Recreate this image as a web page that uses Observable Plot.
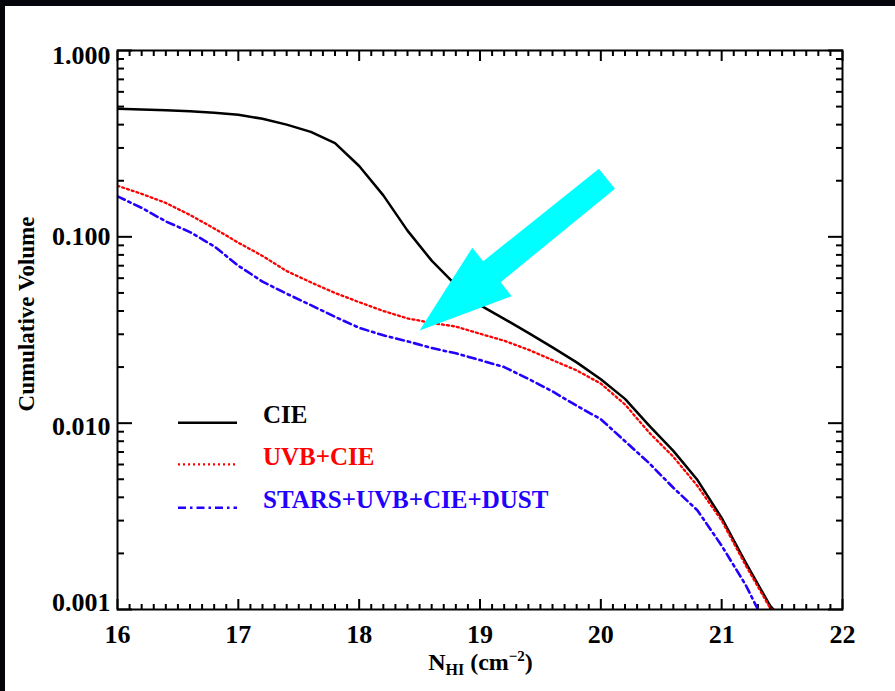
<!DOCTYPE html>
<html><head><meta charset="utf-8">
<script src="https://cdn.jsdelivr.net/npm/d3@7"></script>
<script src="https://cdn.jsdelivr.net/npm/@observablehq/plot@0.6"></script>
<style>
html,body{margin:0;padding:0;background:#05060b;width:895px;height:691px;overflow:hidden}
#panel{position:absolute;left:5px;top:6px;width:890px;height:685px;background:#fff}
</style></head><body><div id="panel"></div>
<script>
// ---- data ----
const nCIE   = [16.0,16.2,16.4,16.6,16.8,17.0,17.2,17.4,17.6,17.8,18.0,18.2,18.4,18.6,18.8,19.0,19.2,19.4,19.6,19.8,20.0,20.2,20.4,20.6,20.8,21.0,21.2,21.4,21.43];
const volCIE = [0.487,0.482,0.478,0.472,0.463,0.452,0.430,0.400,0.366,0.318,0.240,0.167,0.108,0.0745,0.055,0.043,0.0363,0.0305,0.0255,0.0212,0.0172,0.0135,0.0097,0.0071,0.00495,0.0031,0.00178,0.00105,0.001];
const nUVB   = [16.0,16.2,16.4,16.6,16.8,17.0,17.2,17.4,17.6,17.8,18.0,18.2,18.4,18.6,18.8,19.0,19.2,19.4,19.6,19.8,20.0,20.2,20.4,20.6,20.8,21.0,21.2,21.4,21.42];
const volUVB = [0.188,0.170,0.152,0.131,0.111,0.093,0.079,0.0655,0.057,0.050,0.0446,0.040,0.0365,0.0345,0.0330,0.0302,0.0277,0.0248,0.0218,0.0192,0.0163,0.0126,0.0089,0.0066,0.0046,0.0030,0.00172,0.00102,0.001];
const nSTARS   = [16.0,16.2,16.4,16.6,16.8,17.0,17.2,17.4,17.6,17.8,18.0,18.2,18.4,18.6,18.8,19.0,19.2,19.4,19.6,19.8,20.0,20.2,20.4,20.6,20.8,21.0,21.2,21.3];
const volSTARS = [0.165,0.143,0.121,0.106,0.089,0.070,0.0575,0.0495,0.043,0.0372,0.0325,0.0296,0.0275,0.0253,0.0237,0.0218,0.0200,0.0173,0.0148,0.0124,0.0105,0.0080,0.0061,0.0045,0.0034,0.0022,0.00135,0.001];

const seriesNames  = ["CIE", "UVB+CIE", "STARS+UVB+CIE+DUST"];
const seriesColors = ["#000000", "#ff0000", "#2200ff"];
const seriesDash   = [null, "2,3", "8,4,2.5,4"];
const seriesWidth  = [2.5, 2.3, 2.6];

// annotation arrow outline (data coordinates)
const arrowN = [18.50, 18.936, 19.027, 19.984, 20.117, 19.171, 19.262];
const arrowV = [0.0314, 0.0873, 0.074, 0.232, 0.181, 0.0571, 0.048];

const xTicks = [16,17,18,19,20,21,22];
const yTicks = [1, 0.1, 0.01, 0.001];
const yTickLabels = ["1.000","0.100","0.010","0.001"];
const xLabelMain = "N", xLabelSub = "HI", xLabelUnit = " (cm", xLabelSup = "−2", xLabelEnd = ")";
const yLabel = "Cumulative Volume";

// ---- derived ----
const toRows = (ns, vs) => ns.map((n, i) => ({n, v: vs[i]}));
const rows = [toRows(nCIE, volCIE), toRows(nUVB, volUVB), toRows(nSTARS, volSTARS)];
const arrowRows = toRows(arrowN, arrowV);
const xMinor = d3.range(160, 221).filter(k => k % 10 !== 0).map(k => k / 10);
const yMinor = [];
for (const d of [0.001, 0.01, 0.1]) for (let k = 2; k <= 9; k++) yMinor.push(d * k);
const yLabelShift = [5, 0, 4, -7]; // vertical nudges of the y tick labels (px)

const font = "'Liberation Serif', 'Times New Roman', serif";

function decorations(index, scales, values, dims) {
  const g = d3.create("svg:g").attr("font-family", font).attr("font-weight", "bold");
  const L = dims.marginLeft, T = dims.marginTop;
  const R = dims.width - dims.marginRight, B = dims.height - dims.marginBottom;
  // legend
  const ys = [372.7, 414.3, 457.7];
  seriesNames.forEach((name, i) => {
    const y = T + ys[i];
    g.append("line").attr("x1", L + 61).attr("x2", L + 120).attr("y1", y).attr("y2", y)
      .attr("stroke", seriesColors[i]).attr("stroke-width", seriesWidth[i])
      .attr("stroke-dasharray", seriesDash[i]);
    g.append("text").attr("x", L + 146).attr("y", y + 0.5).attr("fill", seriesColors[i])
      .attr("text-anchor", "start").attr("font-size", 25).text(name);
  });
  // x label
  const t = g.append("text").attr("x", (L + R) / 2 + 1).attr("y", B + 61)
    .attr("text-anchor", "middle").attr("font-size", 24).attr("fill", "#000");
  t.append("tspan").text(xLabelMain);
  t.append("tspan").attr("font-size", 16).attr("dy", 5).text(xLabelSub);
  t.append("tspan").attr("dy", -5).text(xLabelUnit);
  t.append("tspan").attr("font-size", 15).attr("dy", -9).text(xLabelSup);
  t.append("tspan").attr("dy", 9).text(xLabelEnd);
  // y label
  g.append("text").attr("transform", `translate(29,${T + 264}) rotate(-90)`)
    .attr("text-anchor", "middle").attr("font-size", 23).attr("fill", "#000").text(yLabel);
  return g.node();
}

const tickOpts = {stroke: "#000", strokeWidth: 2, tickFormat: () => "", label: null};

const chart = Plot.plot({
  width: 890, height: 685,
  marginLeft: 112, marginRight: 53, marginTop: 44, marginBottom: 82,
  x: {domain: [16, 22], label: null},
  y: {type: "log", domain: [0.001, 1], label: null},
  style: {fontFamily: font, fontWeight: "bold", fontSize: "26px", background: "#fff", color: "#000"},
  marks: [
    // tick labels
    Plot.axisX(xTicks, {anchor: "bottom", tickSize: 0, tickPadding: 15, tickFormat: d => String(d), label: null}),
    ...yTicks.map((t, i) => Plot.axisY([t], {
      anchor: "left", tickSize: 0, tickPadding: 7, dy: yLabelShift[i],
      tickFormat: () => yTickLabels[i], label: null
    })),
    // inward ticks on all four sides
    Plot.axisX(xTicks, {anchor: "bottom", tickSize: 10, dy: -10, ...tickOpts}),
    Plot.axisX(xMinor, {anchor: "bottom", tickSize: 5, dy: -5, ...tickOpts}),
    Plot.axisX(xTicks, {anchor: "top", tickSize: 10, dy: 10, ...tickOpts}),
    Plot.axisX(xMinor, {anchor: "top", tickSize: 5, dy: 5, ...tickOpts}),
    Plot.axisY(yTicks, {anchor: "left", tickSize: 15, dx: 15, ...tickOpts}),
    Plot.axisY(yMinor, {anchor: "left", tickSize: 7, dx: 7, ...tickOpts}),
    Plot.axisY(yTicks, {anchor: "right", tickSize: 15, dx: -15, ...tickOpts}),
    Plot.axisY(yMinor, {anchor: "right", tickSize: 7, dx: -7, ...tickOpts}),
    // curves
    ...rows.map((r, i) => Plot.line(r, {
      x: "n", y: "v", stroke: seriesColors[i],
      strokeWidth: seriesWidth[i], strokeDasharray: seriesDash[i],
      curve: "linear", clip: true
    })),
    // cyan annotation arrow
    Plot.line(arrowRows, {x: "n", y: "v", fill: "#00ffff", stroke: "none", curve: "linear-closed"}),
    Plot.frame({stroke: "#000", strokeWidth: 2}),
    decorations
  ]
});
document.getElementById("panel").appendChild(chart);
</script>
</body></html>
